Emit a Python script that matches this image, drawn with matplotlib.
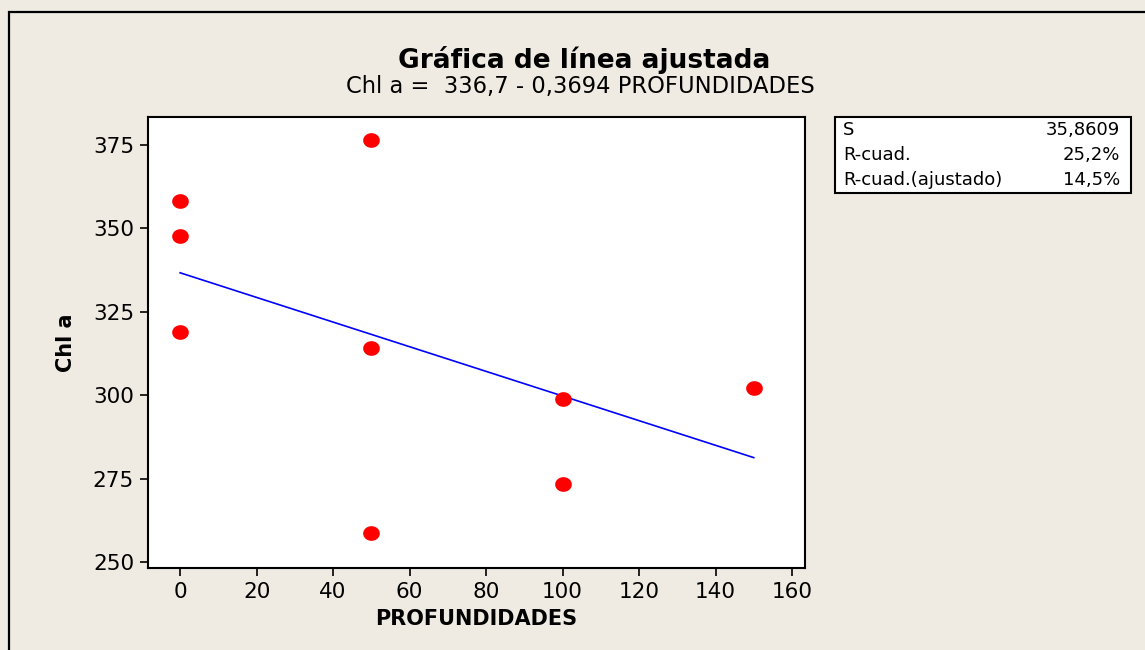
import matplotlib
matplotlib.use("Agg")
import matplotlib.pyplot as plt
import numpy as np
from matplotlib.patches import Rectangle

profundidades = [0, 0, 0, 50, 50, 50, 100, 100, 150]
chl_a = [358.2, 347.6, 318.8, 376.4, 314.3, 258.6, 299.0, 273.3, 302.1]

# Fitted model
intercept = 336.7
slope = -0.3694
stats_labels = ["S", "R-cuad.", "R-cuad.(ajustado)"]
stats_values = ["35,8609", "25,2%", "14,5%"]

x_ticks = [0, 20, 40, 60, 80, 100, 120, 140, 160]
y_ticks = [250, 275, 300, 325, 350, 375]

BG = "#efebe2"

fig = plt.figure(figsize=(11.45, 6.5), dpi=100, facecolor=BG)
plt.rcParams["font.family"] = ["DejaVu Sans"]

# outer frame (cut off at right and bottom, as in the source)
fig.patches.append(Rectangle((9 / 1145, -0.1), 1.2, 1 - 12 / 650 + 0.1,
                             transform=fig.transFigure, fill=False,
                             edgecolor="black", lw=1.6, zorder=0))

ax = fig.add_axes([148 / 1145, 1 - 568 / 650, (805 - 148) / 1145, (568 - 117) / 650])
ax.set_facecolor("white")

# slightly wider-than-tall dot, like the source marker
ellipse = np.array([[np.cos(t) * 1.15, np.sin(t)] for t in np.linspace(0, 2 * np.pi, 40)])

xs = np.array([min(profundidades), max(profundidades)])
ax.plot(xs, intercept + slope * xs, color="#0000ff", lw=1.2, zorder=2)
ax.plot(profundidades, chl_a, ls="none", marker=ellipse, color="#ff0000",
        ms=11, mec="#ff0000", zorder=3)

ax.set_xlim(-8.4, 163.4)
ax.set_ylim(248.2, 383.4)
ax.set_xticks(x_ticks)
ax.set_yticks(y_ticks)
ax.tick_params(direction="out", length=6, width=1.2, labelsize=15.5, pad=4,
               colors="black")
for side in ["top", "right", "left", "bottom"]:
    ax.spines[side].set_linewidth(1.5)

ax.set_xlabel("PROFUNDIDADES", fontsize=15, fontweight="bold", labelpad=5)
ax.set_ylabel("Chl a", fontsize=15, fontweight="bold", labelpad=12)

fig.text(584 / 1145, 1 - 60 / 650, "Gráfica de línea ajustada",
         ha="center", va="center", fontsize=19, fontweight="bold")
fig.text(580 / 1145, 1 - 87 / 650, "Chl a =  336,7 - 0,3694 PROFUNDIDADES",
         ha="center", va="center", fontsize=16.3)

# statistics box
bx0, bx1, by0, by1 = 835, 1131, 117, 193
fig.patches.append(Rectangle((bx0 / 1145, 1 - by1 / 650), (bx1 - bx0) / 1145,
                             (by1 - by0) / 650, transform=fig.transFigure,
                             facecolor="white", edgecolor="black", lw=1.5))
row_h = (by1 - by0) / 3
for i, (lab, val) in enumerate(zip(stats_labels, stats_values)):
    yc = 1 - (by0 + row_h * (i + 0.5)) / 650
    fig.text(843 / 1145, yc, lab, ha="left", va="center", fontsize=13)
    fig.text(1120 / 1145, yc, val, ha="right", va="center", fontsize=13)

fig.savefig("out.png", dpi=100, facecolor=BG)
